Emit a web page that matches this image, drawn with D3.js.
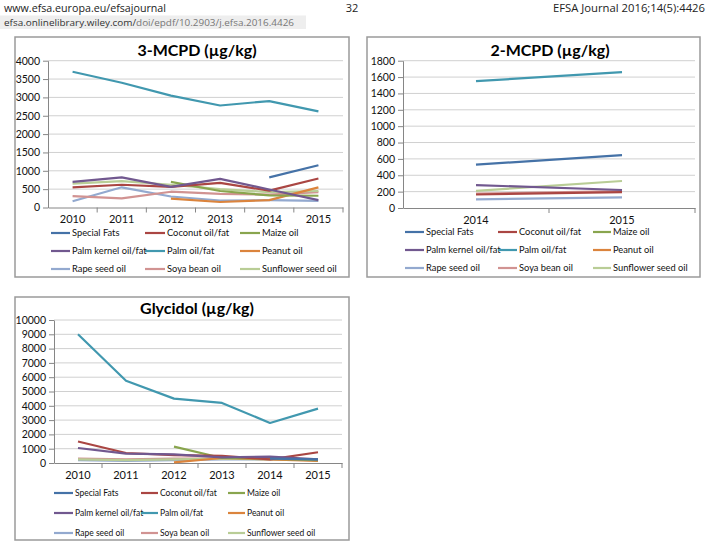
<!DOCTYPE html>
<html><head><meta charset="utf-8">
<script src="https://cdn.jsdelivr.net/npm/d3@7"></script>
<style>body{margin:0;background:#fff}svg{display:block}</style>
</head><body>
<svg id="c" width="711" height="545"></svg>
<script>
// ---------- data ----------
const seriesNames = ["Special Fats","Coconut oil/fat","Maize oil","Palm kernel oil/fat","Palm oil/fat","Peanut oil","Rape seed oil","Soya bean oil","Sunflower seed oil"];
const seriesColors = ["#4572A7","#AA4643","#89A54E","#71588F","#4198AF","#DB843D","#93A9CF","#D19392","#B9CD96"];
const yearsAll = ["2010","2011","2012","2013","2014","2015"];
const years2 = ["2014","2015"];
const ticks3MCPD = [0,500,1000,1500,2000,2500,3000,3500,4000];
const ticks2MCPD = [0,200,400,600,800,1000,1200,1400,1600,1800];
const ticksGly = [0,1000,2000,3000,4000,5000,6000,7000,8000,9000,10000];
// values per series, in seriesNames order
const values3MCPD = [
  [null,null,null,null,820,1150],
  [550,620,560,670,460,790],
  [null,null,700,450,330,320],
  [700,820,560,780,490,200],
  [3700,3400,3050,2780,2900,2620],
  [null,null,240,150,200,550],
  [170,550,300,190,200,180],
  [310,250,430,370,350,420],
  [650,720,620,500,420,450]
];
const values2MCPD = [
  [530,645],
  [165,195],
  [null,null],
  [280,220],
  [1550,1660],
  [null,null],
  [105,130],
  [175,205],
  [210,330]
];
const valuesGly = [
  [null,null,null,null,300,250],
  [1500,700,550,500,250,750],
  [null,null,1150,350,300,200],
  [1050,650,600,400,450,250],
  [9000,5750,4500,4200,2800,3800],
  [null,null,50,350,250,150],
  [200,150,200,250,250,200],
  [300,250,300,300,300,250],
  [250,200,250,300,250,200]
];

// ---------- drawing ----------
const svg = d3.select("#c");
const FONT = "Lato, 'Open Sans', sans-serif";

// header
const hdr = svg.append("g").attr("font-family","'Open Sans', 'Noto Sans', sans-serif").attr("fill","#222");
hdr.append("text").attr("x",4).attr("y",12).attr("font-size",11).attr("textLength",162).attr("lengthAdjust","spacingAndGlyphs").text("www.efsa.europa.eu/efsajournal");
hdr.append("text").attr("x",352).attr("y",12).attr("font-size",11).attr("text-anchor","middle").text("32");
hdr.append("text").attr("x",705).attr("y",12).attr("font-size",11).attr("text-anchor","end").attr("textLength",152).attr("lengthAdjust","spacingAndGlyphs").text("EFSA Journal 2016;14(5):4426");
hdr.append("rect").attr("x",0).attr("y",15.5).attr("width",306).attr("height",13.5).attr("fill","#eeeeee");
const l2 = hdr.append("text").attr("x",4).attr("y",25.5).attr("font-size",9.5).attr("textLength",290).attr("lengthAdjust","spacingAndGlyphs");
l2.append("tspan").attr("fill","#333").text("efsa.onlinelibrary.wiley.com/");
l2.append("tspan").attr("fill","#777").text("doi/epdf/10.2903/j.efsa.2016.4426");

function drawChart(cfg){
  const g = svg.append("g").attr("font-family",FONT);
  g.append("rect").attr("x",cfg.box[0]).attr("y",cfg.box[1]).attr("width",cfg.box[2]-cfg.box[0]).attr("height",cfg.box[3]-cfg.box[1])
    .attr("fill","#fff").attr("stroke","#9a9a9a").attr("stroke-width",1.5);
  g.append("text").attr("x",cfg.titleX).attr("y",cfg.titleY).attr("text-anchor","middle").attr("font-weight","bold")
    .attr("font-size",16).attr("fill","#000").text(cfg.title);
  const x = d3.scaleBand().domain(cfg.cats).range([cfg.px0,cfg.px1]);
  const y = d3.scaleLinear().domain([0,cfg.ticks[cfg.ticks.length-1]]).range([cfg.py0,cfg.py1]);
  // gridlines
  g.append("g").selectAll("line").data(cfg.ticks.filter(t=>t>0)).join("line")
    .attr("x1",cfg.px0).attr("x2",cfg.px1).attr("y1",d=>y(d)).attr("y2",d=>y(d))
    .attr("stroke","#d0d0d0").attr("stroke-width",1);
  // y axis
  const ya = g.append("g").attr("transform",`translate(${cfg.px0},0)`)
    .call(d3.axisLeft(y).tickValues(cfg.ticks).tickFormat(d3.format("d")).tickSize(5).tickPadding(3).tickSizeOuter(0));
  ya.select(".domain").attr("stroke","#868686");
  ya.selectAll(".tick line").attr("stroke","#868686");
  ya.selectAll("text").attr("font-family",FONT).attr("font-size",10.5).attr("fill","#111");
  // x axis
  const xa = g.append("g").attr("transform",`translate(0,${cfg.py0})`)
    .call(d3.axisBottom(x).tickSize(0).tickPadding(cfg.xpad).tickSizeOuter(0));
  xa.select(".domain").attr("stroke","#868686");
  xa.selectAll("text").attr("font-family",FONT).attr("font-size",11).attr("fill","#111");
  const bounds = cfg.cats.map(c=>x(c)).concat([cfg.px1]).slice(1);
  xa.selectAll(".bt").data(bounds).join("line").attr("class","bt")
    .attr("x1",d=>d).attr("x2",d=>d).attr("y1",0).attr("y2",5).attr("stroke","#868686");
  // lines
  const line = d3.line().defined(d=>d.v!=null).x(d=>x(d.c)+x.bandwidth()/2).y(d=>y(d.v));
  const order = [6,7,8,5,2,1,3,0,4];
  order.forEach(i=>{
    const pts = cfg.cats.map((c,j)=>({c:c,v:cfg.values[i][j]}));
    g.append("path").attr("d",line(pts)).attr("fill","none").attr("stroke",seriesColors[i])
      .attr("stroke-width",2.2).attr("stroke-linejoin","round");
  });
  // legend
  seriesNames.forEach((n,i)=>{
    const col = i%3, row = Math.floor(i/3);
    const lx = cfg.legCols[col], ly = cfg.legRows[row];
    g.append("line").attr("x1",lx[0]).attr("x2",lx[1]).attr("y1",ly).attr("y2",ly)
      .attr("stroke",seriesColors[i]).attr("stroke-width",2.2);
    g.append("text").attr("x",lx[1]+2).attr("y",ly+3).attr("font-size",cfg.legFont).attr("fill","#111").text(n);
  });
}

drawChart({box:[15,37,349,277],title:"3-MCPD (µg/kg)",titleX:197,titleY:56,cats:yearsAll,ticks:ticks3MCPD,
  px0:48,px1:343,py0:207.5,py1:60.7,xpad:8,values:values3MCPD,legFont:9.3,
  legRows:[233,251,269],legCols:[[51,70],[145,165],[240,260]]});
drawChart({box:[367,37,700,277],title:"2-MCPD (µg/kg)",titleX:550,titleY:56,cats:years2,ticks:ticks2MCPD,
  px0:403,px1:695,py0:208,py1:60.7,xpad:8,values:values2MCPD,legFont:9.3,
  legRows:[232,250,268],legCols:[[405,424],[498,517],[593,611]]});
drawChart({box:[15,297,349,540],title:"Glycidol (µg/kg)",titleX:197,titleY:314,cats:yearsAll,ticks:ticksGly,
  px0:54,px1:342,py0:463,py1:320,xpad:8,values:valuesGly,legFont:8.5,
  legRows:[493,513,533],legCols:[[54,73],[141,158],[228,245]]});
</script>
</body></html>
